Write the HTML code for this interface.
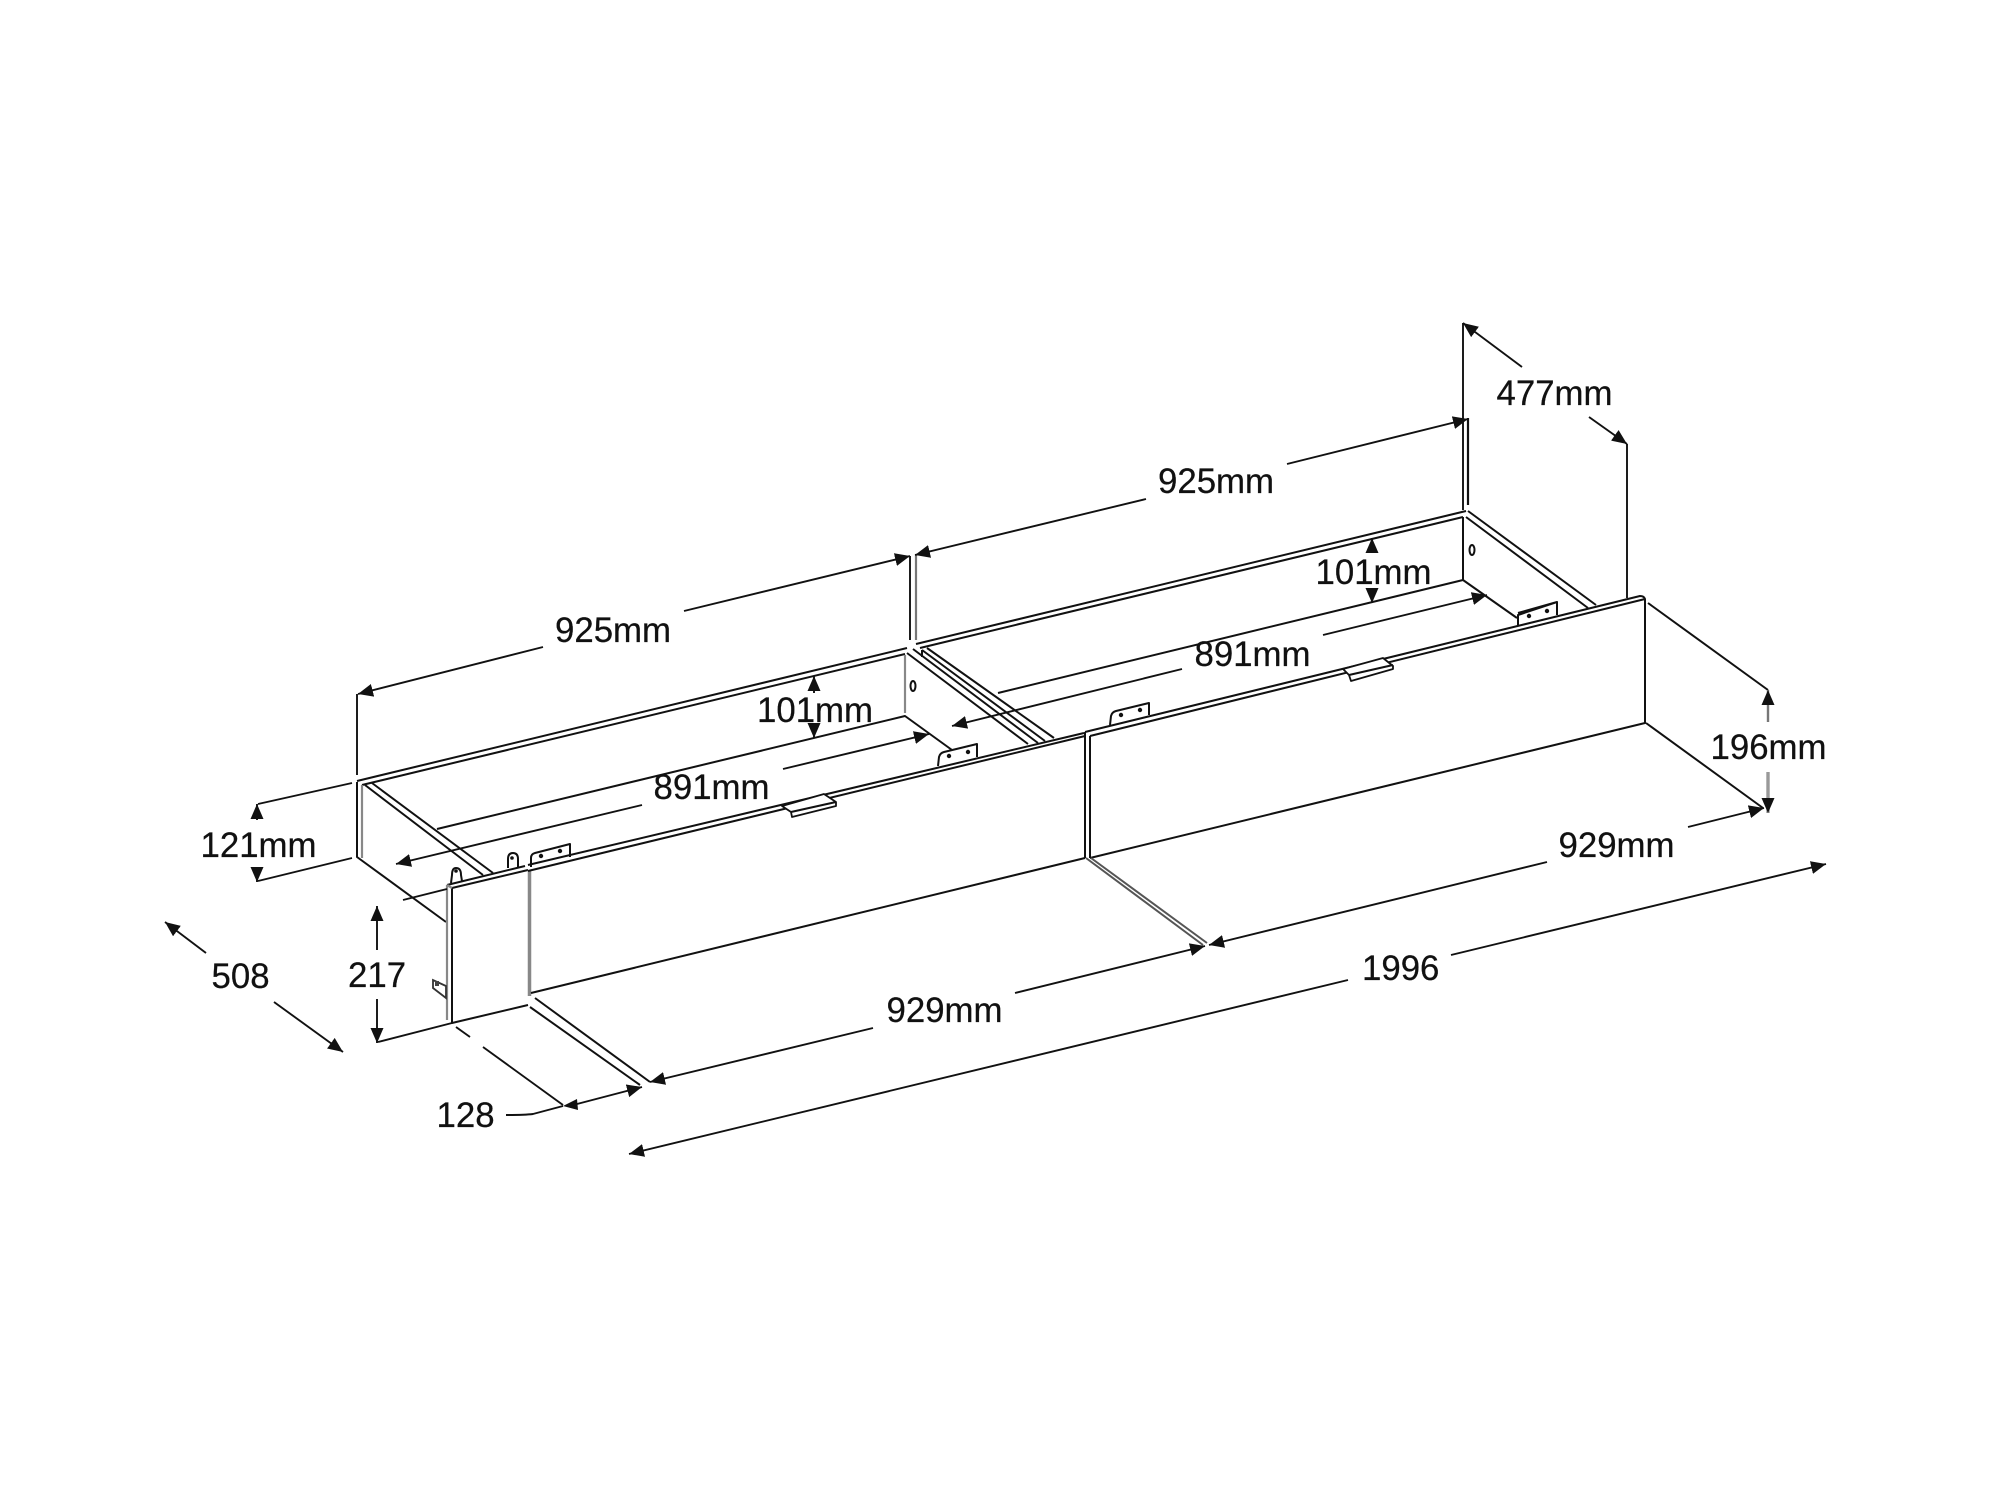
<!DOCTYPE html>
<html>
<head>
<meta charset="utf-8">
<style>
html,body{margin:0;padding:0;background:#fff}
svg{display:block}
text{font-family:"Liberation Sans",Arial,sans-serif;font-size:34.8px;fill:#111;stroke:#111;stroke-width:.25}
.l{fill:none;stroke:#111;stroke-width:2;stroke-linejoin:round}
.g{fill:none;stroke:#888;stroke-width:2.2}
.d{fill:none;stroke:#111;stroke-width:1.9}
</style>
</head>
<body>
<svg width="2002" height="1501" viewBox="0 0 2002 1501" xmlns="http://www.w3.org/2000/svg">
<defs>
<marker id="a" markerUnits="userSpaceOnUse" markerWidth="16" markerHeight="14" refX="15" refY="7" orient="auto-start-reverse">
<path d="M15 7 L0 0.5 L0 13.5 Z" fill="#111"/>
</marker>
</defs>
<rect width="2002" height="1501" fill="#fff"/>

<!-- Rear rails -->
<path class="l" d="M357 781 L907 648 M362 785 L905 654"/>
<path class="l" d="M916 644 L1466 511 M920 648 L1463 517"/>

<!-- Left end -->
<path class="l" d="M357 782 V857 L446 922"/>
<path class="g" d="M362 785 V858"/>
<path class="l" d="M365 785 L483 875 M372 783 L493 873"/>

<!-- First compartment -->
<path class="l" d="M437 829 L905 716 L952 750"/>
<path class="g" d="M905 655 V713"/>
<path class="l" d="M907 653 L1028 744 M913 649 L1038 743 M922 650 L1045 741 M927 648 L1054 738 M922 650 V657"/>
<ellipse class="l" cx="913" cy="686" rx="2.5" ry="5"/>

<!-- Second compartment -->
<path class="l" d="M998 693 L1463 580 V517 M1463 580 L1517 618"/>
<path class="l" d="M1466 517 L1588 608 M1468 511 L1596 605"/>
<ellipse class="l" cx="1472" cy="550" rx="2.5" ry="5"/>

<!-- Front end panel -->
<path class="g" d="M447 885 V1020"/>
<path class="l" d="M447 885 L525 866 M452 888 L528 870 M452 888 V1023 L528 1005"/>
<path class="g" d="M529.5 870 V996" style="stroke-width:3.5"/>
<path class="g" d="M447 885 L452 888" />

<!-- Front panels -->
<path class="l" d="M528 865 L1084 733 M528 871 L1085 736"/>
<path class="l" d="M531 993 L1085 858"/>
<path class="l" d="M1085 732 V858 M1090 736 V858"/>
<path class="l" d="M1085 732 L1640 596 Q1644 596 1645 599 M1090 736 L1645 599 V723 L1090 858"/>

<!-- Feet guides -->
<path class="l" d="M1086 858 L1203 945 M1091 858 L1207 943" style="stroke:#555"/>
<path class="l" d="M535 998 L650 1082 M530 1007 L640 1085"/>
<path class="l" d="M1648 603 L1768 690 M1646 723 L1763 808"/>

<!-- Brackets -->
<path class="l" d="M531 867 L531 858 Q531 854 535 853 L570 844 V857"/>
<circle cx="541" cy="856" r="2.2" fill="#111"/><circle cx="560" cy="851" r="2.2" fill="#111"/>
<path class="l" d="M938 766 L939 757 Q940 753 944 752 L977 744 V757"/>
<circle cx="949" cy="756" r="2.2" fill="#111"/><circle cx="968" cy="752" r="2.2" fill="#111"/>
<path class="l" d="M1110 725 L1111 716 Q1112 712 1116 711 L1149 703 V715"/>
<circle cx="1121" cy="715" r="2.2" fill="#111"/><circle cx="1140" cy="710" r="2.2" fill="#111"/>
<path class="l" d="M1518 625 L1518 615 L1557 602 V615 M1518 613 L1557 602"/>
<circle cx="1529" cy="616" r="2.2" fill="#111"/><circle cx="1547" cy="611" r="2.2" fill="#111"/>

<!-- Knobs -->
<path class="l" d="M451 883 L452 875 Q452 868 456 868 Q461 868 461 875 L462 881"/>
<circle cx="456" cy="871" r="1.8" fill="#111"/>
<path class="l" d="M508 868 V859 Q508 853 513 853 Q518 853 518 859 V867"/>
<circle cx="512" cy="858" r="1.8" fill="#111"/>
<path d="M433 980 L433 988 L446 998 V986 Z" fill="#fff" stroke="#333" stroke-width="1.8"/>
<rect x="435" y="981" width="4" height="5" fill="#444"/>

<!-- Handles -->
<path d="M782 806 L824 794 L836 802 V806 L792 817 L791 812 Z" fill="#fff" stroke="#111" stroke-width="1.8" stroke-linejoin="round"/>
<path class="l" d="M791 812 L836 802" />
<path d="M1343 669 L1383 658 L1393 666 V669 L1351 681 L1349 675 Z" fill="#fff" stroke="#111" stroke-width="1.8" stroke-linejoin="round"/>
<path class="l" d="M1349 675 L1393 665" />

<!-- Extension verticals -->
<path class="d" d="M357 694 V775"/>
<path class="d" d="M910 556 V640"/>
<path class="d" d="M916 555 V640" style="stroke:#777;stroke-width:2.2"/>
<path class="d" d="M1463 323 V510"/>
<path class="d" d="M1468 418 V505" style="stroke-width:2.2"/>
<path class="d" d="M1627 444 V598"/>

<!-- 925 -->
<path class="d" d="M543 647 L358 694" marker-end="url(#a)"/>
<path class="d" d="M684 611 L910 556" marker-end="url(#a)"/>
<path class="d" d="M1146 499 L915 555" marker-end="url(#a)"/>
<path class="d" d="M1287 464 L1468 419" marker-end="url(#a)"/>

<!-- 477 -->
<path class="d" d="M1522 367 L1463 323" marker-end="url(#a)"/>
<path class="d" d="M1589 417 L1627 444" marker-end="url(#a)"/>

<!-- 101 -->
<path class="d" d="M814 693 V676" marker-end="url(#a)"/>
<path class="d" d="M814 723 V738" marker-end="url(#a)"/>
<path class="d" d="M1372 553 V538" marker-end="url(#a)"/>
<path class="d" d="M1372 588 V603" marker-end="url(#a)"/>

<!-- 891 -->
<path class="d" d="M642 805 L396 864" marker-end="url(#a)"/>
<path class="d" d="M783 769 L929 734" marker-end="url(#a)"/>
<path class="d" d="M403 900 L447 889"/>
<path class="d" d="M1182 669 L952 726" marker-end="url(#a)"/>
<path class="d" d="M1323 635 L1487 595" marker-end="url(#a)"/>

<!-- 121 -->
<path class="d" d="M258 804 L352 783 M258 881 L352 858"/>
<path class="d" d="M257 820 V804" marker-end="url(#a)"/>
<path class="d" d="M257 867 V882" marker-end="url(#a)"/>

<!-- 217 -->
<path class="d" d="M377 950 V906" marker-end="url(#a)"/>
<path class="d" d="M377 999 V1043" marker-end="url(#a)"/>
<path class="d" d="M378 1042 L452 1023"/>

<!-- 508 -->
<path class="d" d="M206 953 L165 922" marker-end="url(#a)"/>
<path class="d" d="M274 1002 L343 1052" marker-end="url(#a)"/>

<!-- 128 -->
<path class="d" d="M456 1027 L470 1037 M483 1047 L563 1105"/>
<path class="d" d="M506 1115 Q525 1115 533 1114 L563 1106"/>
<path d="M563 1106 L577 1099 L578 1110 Z" fill="#111"/>
<path class="d" d="M577 1104 L642 1087" marker-end="url(#a)"/>

<!-- 929 -->
<path class="d" d="M873 1028 L650 1082" marker-end="url(#a)"/>
<path class="d" d="M1015 993 L1205 946" marker-end="url(#a)"/>
<path class="d" d="M1547 862 L1209 945" marker-end="url(#a)"/>
<path class="d" d="M1688 827 L1764 808" marker-end="url(#a)"/>

<!-- 1996 -->
<path class="d" d="M1348 980 L629 1154" marker-end="url(#a)"/>
<path class="d" d="M1451 955 L1826 864" marker-end="url(#a)"/>

<!-- 196 -->
<path class="d" d="M1768 722 V690" style="stroke:#777;stroke-width:2.4" marker-end="url(#a)"/>
<path class="d" d="M1768 772 V813" style="stroke:#999;stroke-width:3.4" marker-end="url(#a)"/>

<!-- Labels -->
<text x="555" y="642">925mm</text>
<text x="1158" y="493">925mm</text>
<text x="1496.5" y="405">477mm</text>
<text x="1315.5" y="584">101mm</text>
<text x="757" y="722">101mm</text>
<text x="1194.5" y="666">891mm</text>
<text x="653.5" y="799">891mm</text>
<text x="200.5" y="857">121mm</text>
<text x="1710.5" y="759">196mm</text>
<text x="1558.5" y="857">929mm</text>
<text x="886.5" y="1022">929mm</text>
<text x="1362" y="980">1996</text>
<text x="211.5" y="988">508</text>
<text x="348" y="987">217</text>
<text x="436.5" y="1127">128</text>
</svg>
</body>
</html>
